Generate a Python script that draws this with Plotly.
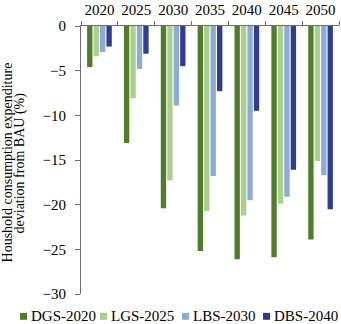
import plotly.graph_objects as go

# Scenario years (category axis, shown along the top)
years = ["2020", "2025", "2030", "2035", "2040", "2045", "2050"]

# Household consumption expenditure deviation from BAU (%) per scenario
dgs_2020 = [-4.6, -13.1, -20.4, -25.2, -26.1, -25.9, -23.9]
lgs_2025 = [-3.4, -8.1, -17.3, -20.7, -21.2, -19.9, -15.1]
lbs_2030 = [-2.9, -4.8, -8.9, -16.8, -19.5, -19.1, -16.7]
dbs_2040 = [-2.3, -3.1, -4.5, -7.3, -9.5, -16.1, -20.5]

series_names = ["DGS-2020", "LGS-2025", "LBS-2030", "DBS-2040"]
series_values = [dgs_2020, lgs_2025, lbs_2030, dbs_2040]
series_colors = ["#507d2a", "#a9d08e", "#8eaadb", "#2f3f8e"]

FONT = "Liberation Serif, Times New Roman, serif"
W, H = 341, 324
ML, MR, MT, MB = 81, 2, 24, 30

fig = go.Figure()
for name, vals, col in zip(series_names, series_values, series_colors):
    fig.add_trace(go.Bar(x=years, y=vals, name=name, marker_color=col,
                         marker_line_width=0, showlegend=False))

fig.update_layout(
    width=W, height=H,
    margin=dict(l=ML, r=MR, t=MT, b=MB, pad=0),
    paper_bgcolor="white", plot_bgcolor="white",
    barmode="group", bargap=0.3, bargroupgap=0.17,
    font=dict(family=FONT, size=15, color="#000000"),
)
fig.update_xaxes(
    side="top", type="category", showline=True, linecolor="#6e6e6e", linewidth=1,
    ticks="outside", tickson="boundaries", ticklen=4, tickcolor="#6e6e6e",
    tickangle=0, ticklabelstandoff=4,
    showgrid=False, zeroline=False, tickfont=dict(size=15),
)
fig.update_yaxes(
    range=[-30, 0], dtick=5, showline=True, linecolor="#6e6e6e", linewidth=1,
    ticks="outside", ticklen=5, tickcolor="#6e6e6e", ticklabelstandoff=6,
    showgrid=False, zeroline=False, tickfont=dict(size=15),
)

# y-axis title, two rotated lines
pw = W - ML - MR
ph = H - MT - MB

def px_x(px):
    return (px - ML) / pw

def px_y(py):
    return (H - MB - py) / ph

for text, cx in [("Houshold consumption expenditure", 7.5),
                 ("deviation from BAU (%)", 19.5)]:
    fig.add_annotation(text=text, xref="paper", yref="paper",
                       x=px_x(cx), y=px_y(162), xanchor="center", yanchor="middle",
                       textangle=-90, showarrow=False,
                       font=dict(family=FONT, size=14, color="#000000"))

# legend row along the bottom
legend_x = [20, 100, 182, 263]
for name, col, lx in zip(series_names, series_colors, legend_x):
    fig.add_shape(type="rect", xref="paper", yref="paper",
                  x0=px_x(lx), x1=px_x(lx + 7), y0=px_y(320), y1=px_y(313),
                  fillcolor=col, line_width=0)
    fig.add_annotation(text=name, xref="paper", yref="paper",
                       x=px_x(lx + 9), y=px_y(316.5), xanchor="left", yanchor="middle",
                       showarrow=False,
                       font=dict(family=FONT, size=15, color="#000000"))

fig.write_html("out.html")
